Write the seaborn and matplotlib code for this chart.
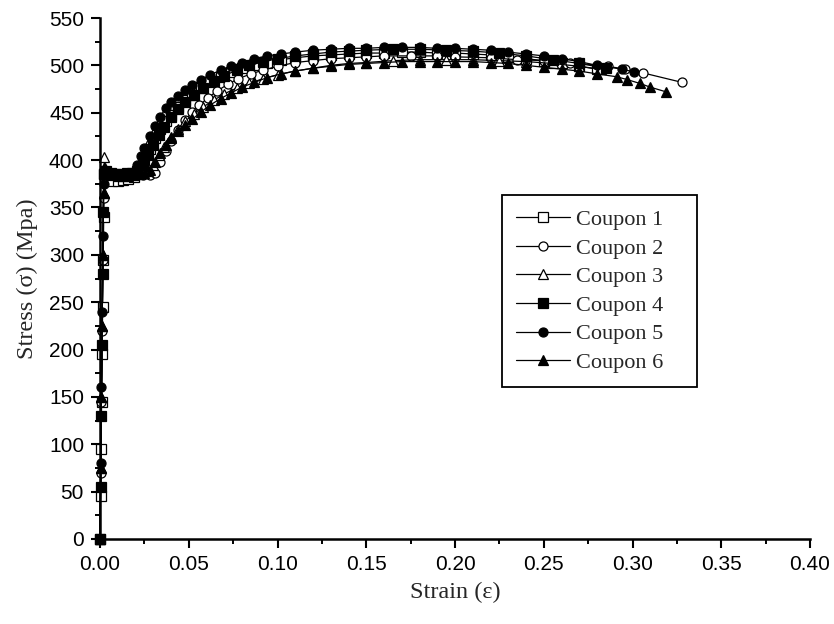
import matplotlib
matplotlib.use("Agg")
import matplotlib.pyplot as plt
import seaborn as sns
import pandas as pd
from matplotlib.ticker import MultipleLocator, FormatStrFormatter

# Coupon 1 (open square)
strain_1 = [0, 0.0003, 0.0006, 0.0009, 0.0012, 0.0015, 0.0018, 0.0021, 0.0025, 0.004, 0.007, 0.010,
            0.013, 0.016, 0.019, 0.022, 0.025, 0.028, 0.031, 0.034, 0.037, 0.040, 0.044, 0.048, 0.052,
            0.057, 0.062, 0.068, 0.074, 0.080, 0.087, 0.094, 0.102, 0.110, 0.120, 0.130, 0.140, 0.150,
            0.160, 0.170, 0.180, 0.190, 0.200, 0.210, 0.220, 0.230, 0.240, 0.250, 0.260, 0.270, 0.280]
stress_1 = [0, 45, 95, 145, 195, 245, 295, 340, 385, 380, 378, 378,
            379, 380, 382, 390, 400, 412, 423, 433, 441, 448, 456, 463, 469,
            476, 482, 488, 493, 497, 500, 503, 506, 508, 510, 511, 512, 513,
            513, 514, 514, 513, 513, 512, 511, 509, 507, 505, 502, 499, 496]

# Coupon 2 (open circle)
strain_2 = [0, 0.0004, 0.0008, 0.0012, 0.0016, 0.0020, 0.0024, 0.004, 0.008, 0.012, 0.016, 0.020,
            0.024, 0.028, 0.031, 0.034, 0.037, 0.040, 0.044, 0.048, 0.052, 0.056, 0.061, 0.066, 0.072,
            0.078, 0.085, 0.092, 0.100, 0.110, 0.120, 0.130, 0.140, 0.150, 0.160, 0.175, 0.190, 0.200,
            0.220, 0.235, 0.250, 0.265, 0.286, 0.296, 0.306, 0.328]
stress_2 = [0, 70, 145, 220, 295, 360, 388, 386, 384, 383, 383, 384,
            384, 384, 386, 398, 410, 420, 432, 442, 451, 458, 466, 473, 480,
            486, 491, 495, 499, 503, 505, 507, 508, 509, 510, 510, 510, 509,
            508, 506, 505, 503, 499, 496, 492, 482]

# Coupon 3 (open triangle)
strain_3 = [0, 0.0004, 0.0008, 0.0012, 0.0016, 0.0020, 0.0025, 0.003, 0.005, 0.008, 0.012, 0.016,
            0.020, 0.024, 0.027, 0.030, 0.033, 0.036, 0.040, 0.044, 0.048, 0.053, 0.058, 0.064, 0.070,
            0.077, 0.084, 0.092, 0.100, 0.110, 0.120, 0.130, 0.140, 0.150, 0.165, 0.180, 0.195, 0.210,
            0.225, 0.240, 0.255, 0.270, 0.282]
stress_3 = [0, 75, 150, 225, 300, 365, 403, 392, 386, 385, 384, 384,
            385, 386, 388, 395, 405, 414, 424, 433, 441, 449, 456, 463, 470,
            476, 481, 486, 490, 494, 497, 500, 502, 503, 505, 506, 506, 506,
            505, 504, 502, 499, 496]

# Coupon 4 (filled square)
strain_4 = [0, 0.0003, 0.0007, 0.0011, 0.0015, 0.0019, 0.0023, 0.0035, 0.006, 0.009, 0.012, 0.015,
            0.018, 0.021, 0.024, 0.027, 0.030, 0.033, 0.036, 0.040, 0.044, 0.048, 0.053, 0.058, 0.064,
            0.070, 0.077, 0.084, 0.092, 0.100, 0.110, 0.120, 0.130, 0.140, 0.150, 0.165, 0.180, 0.195,
            0.210, 0.225, 0.240, 0.255, 0.270, 0.285]
stress_4 = [0, 55, 130, 205, 280, 345, 385, 388, 386, 385, 385, 386,
            386, 388, 395, 405, 416, 426, 435, 445, 454, 461, 469, 476, 483,
            489, 495, 500, 504, 507, 510, 512, 514, 515, 516, 517, 517, 516,
            515, 513, 510, 506, 502, 497]

# Coupon 5 (filled circle)
strain_5 = [0, 0.0004, 0.0008, 0.0012, 0.0016, 0.0020, 0.0025, 0.004, 0.007, 0.010, 0.013, 0.016,
            0.019, 0.021, 0.023, 0.025, 0.028, 0.031, 0.034, 0.037, 0.040, 0.044, 0.048, 0.052, 0.057,
            0.062, 0.068, 0.074, 0.080, 0.087, 0.094, 0.102, 0.110, 0.120, 0.130, 0.140, 0.150, 0.160,
            0.170, 0.180, 0.190, 0.200, 0.210, 0.220, 0.230, 0.240, 0.250, 0.260, 0.270, 0.280, 0.294,
            0.301]
stress_5 = [0, 80, 160, 240, 320, 375, 390, 387, 385, 384, 384, 385,
            386, 395, 404, 413, 425, 436, 446, 455, 461, 468, 474, 479, 485,
            490, 495, 499, 503, 507, 510, 512, 514, 516, 517, 518, 518, 519,
            519, 519, 518, 518, 517, 516, 514, 512, 510, 507, 504, 500, 496,
            493]

# Coupon 6 (filled triangle)
strain_6 = [0, 0.0004, 0.0008, 0.0012, 0.0016, 0.0020, 0.0025, 0.004, 0.007, 0.010, 0.013, 0.016,
            0.019, 0.022, 0.025, 0.028, 0.031, 0.034, 0.037, 0.040, 0.044, 0.048, 0.052, 0.057, 0.062,
            0.068, 0.074, 0.080, 0.087, 0.094, 0.102, 0.110, 0.120, 0.130, 0.140, 0.150, 0.160, 0.170,
            0.180, 0.190, 0.200, 0.210, 0.220, 0.230, 0.240, 0.250, 0.260, 0.270, 0.280, 0.291, 0.297,
            0.304, 0.310, 0.319]
stress_6 = [0, 75, 150, 225, 300, 365, 392, 386, 384, 383, 383, 383,
            384, 385, 386, 390, 398, 408, 416, 423, 431, 437, 443, 451, 458,
            465, 471, 477, 482, 487, 491, 494, 497, 499, 501, 502, 503, 504,
            504, 504, 504, 504, 503, 502, 500, 498, 496, 494, 491, 488, 485,
            481, 477, 472]

labels = ["Coupon 1", "Coupon 2", "Coupon 3", "Coupon 4", "Coupon 5", "Coupon 6"]
strains = [strain_1, strain_2, strain_3, strain_4, strain_5, strain_6]
stresses = [stress_1, stress_2, stress_3, stress_4, stress_5, stress_6]
markers = ["s", "o", "^", "s", "o", "^"]
faces = ["white", "white", "white", "black", "black", "black"]

sns.set_style("ticks")
plt.rcParams["font.family"] = ["Liberation Sans", "DejaVu Sans"]

fig = plt.figure(figsize=(8.34, 6.24), dpi=100)
ax = fig.add_axes([100 / 834, 85 / 624, 710 / 834, 521 / 624])

for lab, x, y, m, fc in zip(labels, strains, stresses, markers, faces):
    df = pd.DataFrame({"strain": x, "stress": y})
    sns.lineplot(data=df, x="strain", y="stress", ax=ax, estimator=None, sort=False,
                 color="black", linewidth=0.9, marker=m, markersize=6.5,
                 markerfacecolor=fc, markeredgecolor="black", markeredgewidth=0.9,
                 label=lab, clip_on=False)

ax.set_xlim(0, 0.40)
ax.set_ylim(0, 550)
ax.xaxis.set_major_locator(MultipleLocator(0.05))
ax.xaxis.set_minor_locator(MultipleLocator(0.025))
ax.yaxis.set_major_locator(MultipleLocator(50))
ax.yaxis.set_minor_locator(MultipleLocator(25))
ax.xaxis.set_major_formatter(FormatStrFormatter("%.2f"))

sns.despine(ax=ax)
for s in ["left", "bottom"]:
    ax.spines[s].set_linewidth(1.8)
    ax.spines[s].set_color("black")
ax.tick_params(which="major", direction="out", length=6.5, width=1.5, labelsize=15,
               pad=5, colors="black")
ax.tick_params(which="minor", direction="out", length=3.6, width=1.4, colors="black")

ax.set_xlabel("Strain (ε)", family=["Liberation Serif"], fontsize=17.5, labelpad=6)
ax.set_ylabel("Stress (σ) (Mpa)", family=["Liberation Serif"], fontsize=17.5, labelpad=8)

leg = ax.legend(loc="upper left", bbox_to_anchor=(0.566, 0.284, 0.275, 0.376), mode="expand",
                borderaxespad=0, frameon=True, fancybox=False, edgecolor="black",
                prop={"family": "Liberation Serif", "size": 16},
                handlelength=2.4, handletextpad=0.3, labelspacing=0.36, borderpad=0.65)
leg.get_frame().set_linewidth(1.3)
leg.get_frame().set_alpha(1)

fig.savefig("out.png", dpi=100)
